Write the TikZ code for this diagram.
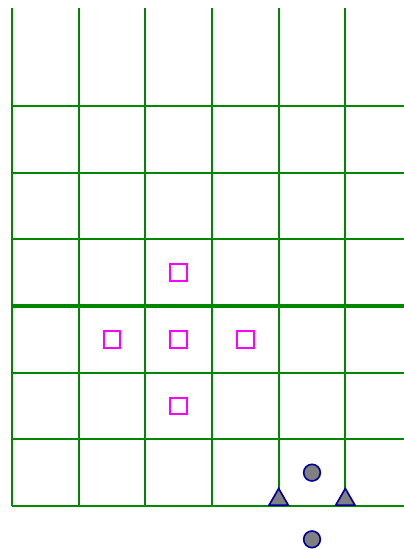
\documentclass[tikz,border=0pt]{standalone}
\usetikzlibrary{shapes.geometric}

\definecolor{gridgreen}{RGB}{0,135,0}
\definecolor{markblue}{RGB}{0,0,150}
\definecolor{boxpink}{RGB}{255,0,255}

\tikzset{
	gridline/.style={draw=gridgreen, line width=0.85pt},
	midline/.style={draw=gridgreen, line width=1.6pt},
	cell/.style={draw=boxpink, line width=0.8pt, minimum size=0.25cm, inner sep=0pt},
	stone/.style={circle, draw=markblue, fill=gray, line width=0.7pt, minimum size=0.25cm, inner sep=0pt},
	peak/.style={isosceles triangle, isosceles triangle apex angle=60, shape border rotate=90, draw=markblue, fill=gray, line width=0.7pt, minimum height=0.25cm, inner sep=0pt, anchor=south}
}

\begin{document}
\begin{tikzpicture}
	\useasboundingbox (-0.18,-0.66) rectangle (5.88,7.59);

	% grid
	\foreach \x in {0,...,5}
	{
		\draw[gridline] (\x,0) -- (\x,7.47);
	};
	\foreach \y in {0,1,2,4,5,6}
	{
		\draw[gridline] (0,\y) -- (5.88,\y);
	};
	\draw[midline] (0,3) -- (5.88,3);

	% squares
	\node[cell] (s1) at (2.5,3.5) {};
	\node[cell] (s2) at (1.5,2.5) {};
	\node[cell] (s3) at (2.5,2.5) {};
	\node[cell] (s4) at (3.5,2.5) {};
	\node[cell] (s5) at (2.5,1.5) {};

	% markers at the bottom
	\node[stone] (c1) at (4.5,0.5) {};
	\node[stone] (c2) at (4.5,-0.5) {};
	\node[peak] (t1) at (4,0) {};
	\node[peak] (t2) at (5,0) {};
\end{tikzpicture}
\end{document}
